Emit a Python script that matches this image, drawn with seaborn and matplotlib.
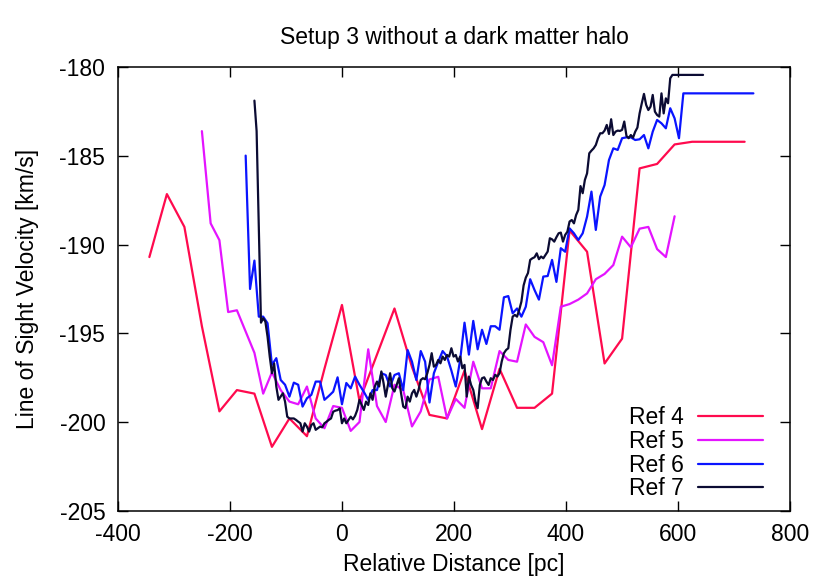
import numpy as np
import pandas as pd
import seaborn as sns
import matplotlib
matplotlib.use('Agg')
import matplotlib.pyplot as plt

# Ref 4: puntos cada 31.25 pc desde -343.75
ref4_x0, ref4_dx = -343.75, 31.25
ref4_v = [-190.7, -187.15, -189.0, -194.6, -199.4, -198.2, -198.4, -201.4, -199.8, -200.8,
          -197.0, -193.4, -198.8, -196.2, -193.6, -196.9, -199.6, -199.8, -197.1, -200.4,
          -197.0, -199.2, -199.2, -198.4, -189.2, -190.4, -196.7, -195.3, -185.7, -185.45,
          -184.35, -184.2, -184.2, -184.2, -184.2]

# Ref 5: cada 15.625 pc desde -250
ref5_x0, ref5_dx = -250.0, 15.625
ref5_v = [-183.6, -188.8, -189.75, -193.8, -193.7, -194.9, -196.1, -198.4, -197.2, -198.2,
          -198.85, -199.0, -198.0, -199.8, -200.35, -199.1, -199.2, -200.5, -200.0, -195.9,
          -199.1, -200.0, -197.9, -198.2, -200.25, -199.4, -197.6, -197.45, -199.8, -198.7,
          -199.2, -196.6, -198.1, -198.1, -196.0, -196.5, -196.6, -194.5, -195.2, -195.5,
          -196.8, -193.5, -193.35, -193.1, -192.75, -191.95, -191.65, -191.15, -189.55, -190.15,
          -189.1, -189.0, -190.25, -190.7, -188.4]

# Ref 6: cada 7.8125 pc desde -171.875
ref6_x0, ref6_dx = -171.875, 7.8125
ref6_v = [-184.98, -192.5, -190.9, -194.06, -194.06, -194.43, -196.78, -196.4, -197.63, -197.9,
          -198.57, -197.78, -197.9, -199.13, -198.66, -198.47, -197.72, -197.72, -198.75, -198.53,
          -198.29, -197.48, -199.0, -197.8, -198.1, -197.44, -197.9, -198.3, -198.75, -198.2,
          -198.2, -197.25, -197.35, -198.0, -197.35, -197.25, -198.2, -195.94, -196.6, -197.63,
          -196.0, -196.6, -198.9, -197.25, -196.6, -196.0, -196.3, -197.1, -198.0, -196.5,
          -194.4, -196.2, -194.3, -195.9, -194.8, -195.6, -194.6, -194.6, -194.8, -192.97,
          -192.9, -193.87, -193.6, -194.06, -193.5, -191.95, -192.56, -193.1, -191.8, -191.77,
          -190.86, -192.1, -190.2, -190.4, -189.08, -189.36, -189.74, -189.36, -188.42, -187.01,
          -189.17, -187.29, -186.64, -185.23, -184.57, -184.66, -184.0, -183.95, -183.95, -184.1,
          -184.06, -183.82, -184.57, -183.63, -182.97, -183.16, -183.44, -182.31, -182.88, -184.0,
          -181.47, -181.47, -181.47, -181.47, -181.47, -181.47, -181.47, -181.47, -181.47, -181.47,
          -181.47, -181.47, -181.47, -181.47, -181.47, -181.47, -181.47]

# Ref 7: cada 3.90625 pc desde -156.25
ref7_x0, ref7_dx = -156.25, 3.90625
ref7_v = [-181.88, -183.6, -189.0, -194.4, -194.15, -194.34, -195.19, -196.31, -197.25, -196.7,
          -198.0, -198.75, -198.57, -198.38, -198.85, -199.7, -199.8, -199.8, -199.8, -199.88,
          -199.98, -200.07, -200.54, -200.07, -200.26, -200.54, -200.17, -200.07, -200.44, -200.35,
          -200.26, -200.3, -200.07, -199.98, -199.88, -199.8, -199.42, -199.36, -199.33, -199.23,
          -200.07, -199.8, -200.07, -199.88, -199.7, -199.85, -199.65, -199.32, -198.75, -199.04,
          -199.32, -198.85, -199.04, -198.38, -198.75, -198.0, -197.72, -198.0, -197.15, -197.8,
          -198.57, -197.9, -197.25, -198.1, -198.28, -197.9, -197.53, -198.38, -199.13, -199.22,
          -198.57, -198.85, -198.38, -198.19, -198.57, -198.19, -197.63, -197.53, -197.59, -197.25,
          -196.78, -196.12, -196.88, -196.78, -196.5, -196.69, -196.31, -196.5, -196.22, -196.31,
          -195.84, -196.31, -196.22, -196.59, -196.31, -196.97, -196.78, -198.57, -197.44, -197.91,
          -198.19, -198.85, -199.22, -197.91, -197.53, -197.48, -197.72, -197.91, -197.53, -197.63,
          -197.34, -197.44, -197.25, -196.59, -196.12, -195.94, -195.84, -194.81, -194.06, -193.96,
          -194.06, -193.68, -193.21, -192.3, -191.86, -191.6, -190.86, -190.77, -190.71, -190.49,
          -190.82, -190.67, -190.77, -190.58, -190.39, -189.64, -189.7, -189.83, -189.58, -189.36,
          -189.32, -189.83, -189.45, -189.27, -188.7, -188.61, -188.8, -188.33, -188.04, -186.7,
          -187.1, -186.35, -185.98, -184.85, -184.7, -184.57, -184.38, -184.0, -183.72, -183.72,
          -183.57, -183.25, -183.76, -182.93, -183.82, -183.63, -183.57, -183.59, -183.53, -183.06,
          -183.87, -184.0, -183.82, -183.97, -183.63, -183.4, -182.6, -182.03, -181.5, -182.12,
          -182.41, -182.22, -181.56, -182.5, -182.69, -182.78, -181.47, -182.6, -181.75, -182.03,
          -180.62, -180.43, -180.43, -180.43, -180.43, -180.43, -180.43, -180.43, -180.43, -180.43,
          -180.43, -180.43, -180.43, -180.43, -180.43, -180.43]

series = [
    ('Ref 4', ref4_x0, ref4_dx, ref4_v, '#ff0a4e'),
    ('Ref 5', ref5_x0, ref5_dx, ref5_v, '#e414ff'),
    ('Ref 6', ref6_x0, ref6_dx, ref6_v, '#0a14ff'),
    ('Ref 7', ref7_x0, ref7_dx, ref7_v, '#0b0b33'),
]

sns.set_style('ticks')
plt.rcParams['font.family'] = ['Liberation Sans', 'DejaVu Sans']
plt.rcParams['axes.unicode_minus'] = False
plt.rcParams['axes.linewidth'] = 1.1
plt.rcParams['axes.edgecolor'] = 'black'
plt.rcParams['text.color'] = 'black'
plt.rcParams['axes.labelcolor'] = 'black'
plt.rcParams['xtick.color'] = 'black'
plt.rcParams['ytick.color'] = 'black'

fs = 16.5
fig = plt.figure(figsize=(8.3, 5.8), dpi=100)
ax = fig.add_axes([0.142, 0.1195, 0.81, 0.7645])

for nombre, x0, dx, vals, col in series:
    df = pd.DataFrame({'d': x0 + dx * np.arange(len(vals)), 'v': vals})
    sns.lineplot(data=df, x='d', y='v', ax=ax, color=col, linewidth=1.6,
                 sort=False, estimator=None, label=nombre)

ax.set_xlim(-400, 800)
ax.set_ylim(-205, -180)
ax.set_xticks(np.arange(-400, 801, 200))
ax.set_yticks(np.arange(-205, -179, 5))
ax.tick_params(direction='in', length=7, width=1, top=True, right=True,
               labelsize=fs, pad=9)
ax.set_xlabel('Relative Distance [pc]', fontsize=fs, labelpad=5)
ax.set_ylabel('Line of Sight Velocity [km/s]', fontsize=fs, labelpad=15)
ax.set_title('Setup 3 without a dark matter halo', fontsize=fs, pad=17)

ax.legend(loc='lower right', markerfirst=False, frameon=False, fontsize=fs,
          handlelength=2.85, handletextpad=0.6, labelspacing=0.03,
          borderaxespad=0.05, bbox_to_anchor=(0.975, 0.0))

plt.savefig('out.png', dpi=100)
